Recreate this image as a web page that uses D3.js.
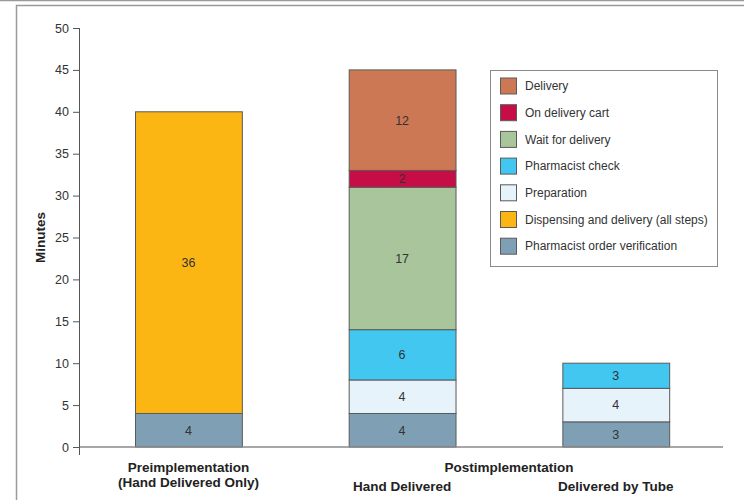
<!DOCTYPE html>
<html>
<head>
<meta charset="utf-8">
<script src="https://cdn.jsdelivr.net/npm/d3@7"></script>
<style>
  html, body { margin: 0; padding: 0; background: #fff; }
  svg { display: block; font-family: "Liberation Sans", Arial, Helvetica, sans-serif; }
</style>
</head>
<body>
<svg id="chart" width="744" height="500"></svg>
<script>
// Bars (x categories)
const categories = ["pre", "hand", "tube"];

// Process steps, bottom to top of each stack
const steps = [
  "Pharmacist order verification",
  "Dispensing and delivery (all steps)",
  "Preparation",
  "Pharmacist check",
  "Wait for delivery",
  "On delivery cart",
  "Delivery"
];
const stepColors = ["#7fa0b4", "#fbb614", "#e6f3fb", "#41c7f0", "#a9c59c", "#c60d46", "#cd7855"];

// Minutes per step for each bar (same order as steps)
const preValues  = [4, 36, 0, 0, 0, 0, 0];
const handValues = [4, 0, 4, 6, 17, 2, 12];
const tubeValues = [3, 0, 4, 3, 0, 0, 0];

// Legend order (top to bottom)
const legendOrder = [
  "Delivery",
  "On delivery cart",
  "Wait for delivery",
  "Pharmacist check",
  "Preparation",
  "Dispensing and delivery (all steps)",
  "Pharmacist order verification"
];

const yTicks = [0, 5, 10, 15, 20, 25, 30, 35, 40, 45, 50];

const svg = d3.select("#chart");

// Frame lines around the figure
svg.append("line").attr("x1", 0).attr("x2", 744).attr("y1", 0.5).attr("y2", 0.5)
  .attr("stroke", "#9a9a9a").attr("stroke-width", 1.5);
svg.append("path").attr("d", "M16.5,500 V5.5 H744")
  .attr("fill", "none").attr("stroke", "#9a9a9a").attr("stroke-width", 1.5);

const y = d3.scaleLinear().domain([0, 50]).range([447, 28]);
const x = d3.scaleBand().domain(categories).range([81.6, 722.6])
  .paddingInner(0.5).paddingOuter(0.25);
const color = d3.scaleOrdinal().domain(steps).range(stepColors);

const rows = [preValues, handValues, tubeValues].map((vals, i) => {
  const r = { cat: categories[i] };
  steps.forEach((s, j) => r[s] = vals[j]);
  return r;
});
const stacked = d3.stack().keys(steps)(rows);

// Bars
const g = svg.append("g");
stacked.forEach(layer => {
  layer.forEach(d => {
    const v = d[1] - d[0];
    if (v <= 0) return;
    g.append("rect")
      .attr("x", x(d.data.cat) + 0.5)
      .attr("width", x.bandwidth())
      .attr("y", y(d[1]))
      .attr("height", y(d[0]) - y(d[1]))
      .attr("fill", color(layer.key))
      .attr("stroke", "#5a5a5a")
      .attr("stroke-width", 1);
    g.append("text")
      .attr("x", x(d.data.cat) + x.bandwidth() / 2)
      .attr("y", (y(d[0]) + y(d[1])) / 2)
      .attr("dy", "0.35em")
      .attr("text-anchor", "middle")
      .attr("font-size", 12.5)
      .attr("fill", "#333")
      .text(v);
  });
});

// Baseline
svg.append("line").attr("x1", 79).attr("x2", 723).attr("y1", y(0)).attr("y2", y(0))
  .attr("stroke", "#8a8a8a").attr("stroke-width", 1.5);

// Y axis
const yAxis = svg.append("g").attr("transform", "translate(79,0)")
  .call(d3.axisLeft(y).tickValues(yTicks).tickSize(6).tickPadding(4).tickSizeOuter(0));
yAxis.attr("font-size", 12.5).attr("font-family", "Liberation Sans, Arial, sans-serif");
yAxis.select(".domain").attr("stroke", "#555").attr("d", `M0.5,${y(50)}V455`);
yAxis.selectAll(".tick line").attr("stroke", "#555");
yAxis.selectAll(".tick text").attr("fill", "#333");

svg.append("text")
  .attr("transform", `translate(45,${y(25)}) rotate(-90)`)
  .attr("text-anchor", "middle")
  .attr("font-size", 13.5).attr("font-weight", "bold").attr("fill", "#222")
  .text("Minutes");

// Category labels
const catLabel = (txt, cx, cy) => svg.append("text")
  .attr("x", cx).attr("y", cy).attr("text-anchor", "middle")
  .attr("font-size", 13.5).attr("font-weight", "bold").attr("fill", "#222")
  .text(txt);
const cx = c => x(c) + x.bandwidth() / 2;
catLabel("Preimplementation", cx("pre"), 472);
catLabel("(Hand Delivered Only)", cx("pre"), 487);
catLabel("Postimplementation", (cx("hand") + cx("tube")) / 2, 472);
catLabel("Hand Delivered", cx("hand"), 491);
catLabel("Delivered by Tube", cx("tube"), 491);

// Legend
const lg = svg.append("g");
lg.append("rect").attr("x", 490.5).attr("y", 70.5).attr("width", 227).attr("height", 196)
  .attr("fill", "#fff").attr("stroke", "#8a8a8a").attr("stroke-width", 1);
legendOrder.forEach((name, i) => {
  const cy = 86 + i * 26.7;
  lg.append("rect").attr("x", 500.5).attr("y", cy - 8).attr("width", 16).attr("height", 16)
    .attr("fill", color(name)).attr("stroke", "#5a5a5a").attr("stroke-width", 1);
  lg.append("text").attr("x", 525).attr("y", cy).attr("dy", "0.35em")
    .attr("font-size", 12).attr("fill", "#333").text(name);
});
</script>
</body>
</html>
